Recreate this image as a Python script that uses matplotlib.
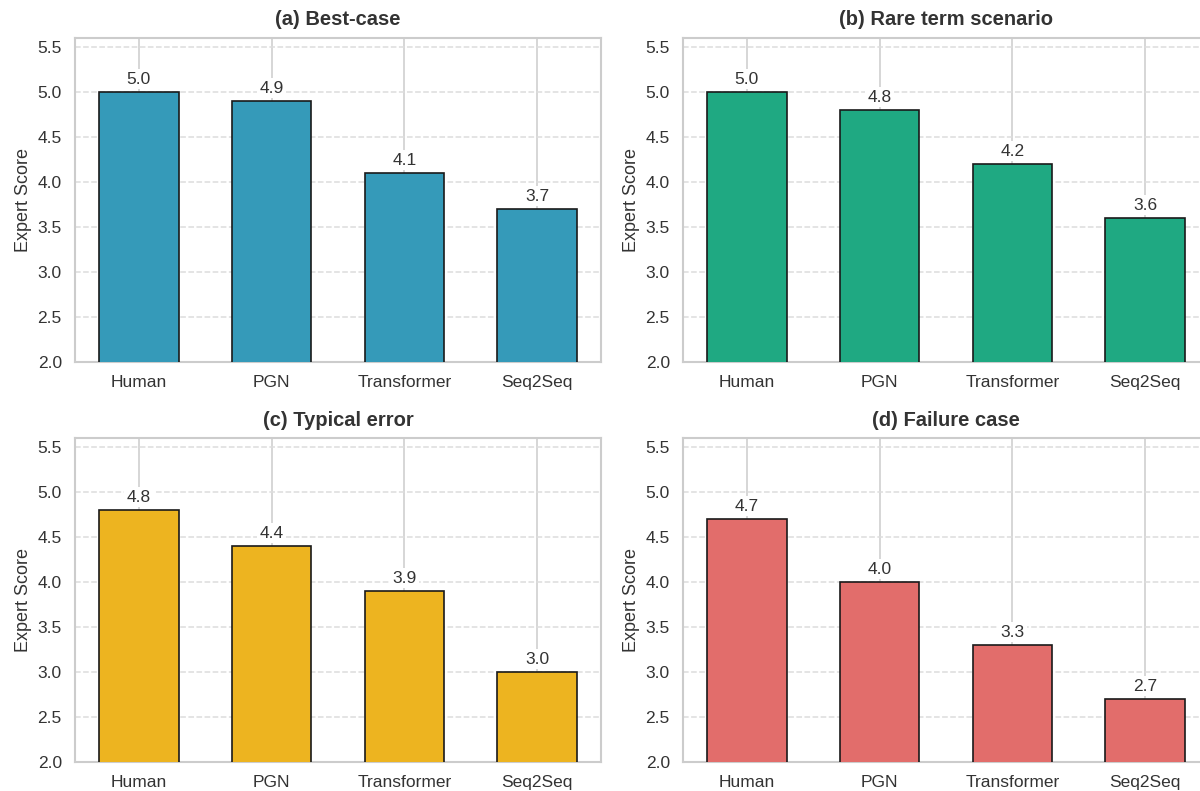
import matplotlib
matplotlib.use("Agg")
import matplotlib.pyplot as plt
import seaborn as sns
import numpy as np

sns.set_theme(style="whitegrid")
plt.rcParams['font.family'] = ['Liberation Sans', 'DejaVu Sans']

models = ["Human", "PGN", "Transformer", "Seq2Seq"]
best_case = [5.0, 4.9, 4.1, 3.7]
rare_term = [5.0, 4.8, 4.2, 3.6]
typical_error = [4.8, 4.4, 3.9, 3.0]
failure_case = [4.7, 4.0, 3.3, 2.7]

titles = ["(a) Best-case", "(b) Rare term scenario", "(c) Typical error", "(d) Failure case"]
colors = ["#359AB9", "#1FA982", "#EDB420", "#E26D6B"]
panels = [best_case, rare_term, typical_error, failure_case]

W, H = 1200, 791
fig = plt.figure(figsize=(W / 100, H / 100), dpi=100)

# axes boxes in pixels: left, top, right, bottom (right column runs off the canvas)
boxes = [(75, 38, 601, 362), (683, 38, 1209, 362),
         (75, 438, 601, 762), (683, 438, 1209, 762)]

for box, title, color, vals in zip(boxes, titles, colors, panels):
    l, t, r, b = box
    ax = fig.add_axes([l / W, 1 - b / H, (r - l) / W, (b - t) / H])
    x = np.arange(len(models))
    ax.bar(x, vals, width=0.6, color=color, edgecolor="#1a1a1a", linewidth=1.2, zorder=3)
    for xi, v in zip(x, vals):
        ax.text(xi, v + 0.06, f"{v:.1f}", ha="center", va="bottom", fontsize=12.5,
                color="#333333", zorder=4,
                bbox=dict(facecolor="white", edgecolor="none", pad=2))
    ax.set_xticks(x)
    ax.set_xticklabels(models, fontsize=12.5, color="#333333")
    ax.set_ylim(2.0, 5.6)
    ax.set_yticks(np.arange(2.0, 5.51, 0.5))
    ax.tick_params(axis="y", labelsize=12.5, colors="#333333")
    ax.set_ylabel("Expert Score", fontsize=13, color="#333333")
    ax.set_title(title, fontsize=14.5, fontweight="bold", color="#333333", pad=9)
    ax.grid(axis="y", linestyle="--", color="#dddddd", linewidth=1.1, zorder=0)
    ax.grid(axis="x", linestyle="-", color="#cccccc", linewidth=1.1, zorder=0)
    ax.set_axisbelow(True)
    for s in ax.spines.values():
        s.set_color("#cccccc")
        s.set_linewidth(1.5)

fig.savefig("out.png", dpi=100)
